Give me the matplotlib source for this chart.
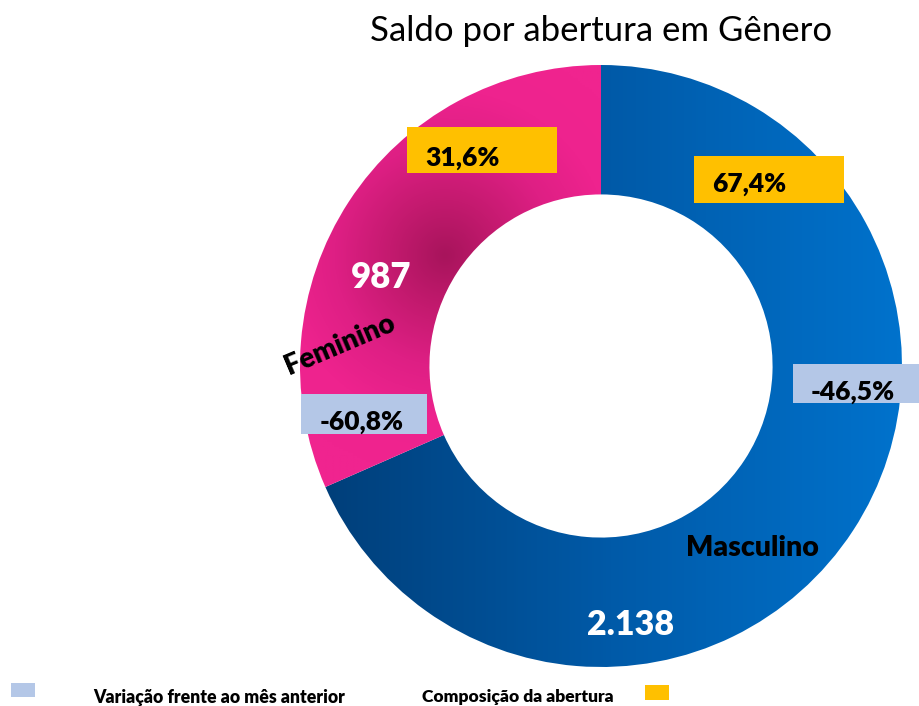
"""
Saldo por abertura em Genero: donut chart.
"""

import matplotlib.pyplot as plt
import numpy as np
from matplotlib.colors import LinearSegmentedColormap
from matplotlib.patches import Rectangle

categories = ["Feminino", "Masculino"]
saldo = [987, 2138]
saldo_labels = ["987", "2.138"]
composicao = ["31,6%", "67,4%"]
variacao = ["-60,8%", "-46,5%"]

W, H = 919, 706
plt.rcParams["font.family"] = ["Lato", "DejaVu Sans"]
BOLD = "heavy"

fig = plt.figure(figsize=(W / 100, H / 100), dpi=100)
ax = fig.add_axes([0, 0, 1, 1])

# Donut, pixel coords (y up)
cx, cy, r = 601, H - 366, 301
wedges, _ = ax.pie(saldo, startangle=90, counterclock=True, center=(cx, cy),
                   radius=r, wedgeprops=dict(width=r * 0.43, linewidth=0),
                   frame=True)
ax.set_xlim(0, W)
ax.set_ylim(0, H)
ax.set_aspect("equal")
ax.axis("off")

# Gradient fills clipped to the wedges
xx, yy = np.meshgrid(np.linspace(0, W, 400), np.linspace(0, H, 320))
blue = LinearSegmentedColormap.from_list("b", ["#003f7a", "#005aa8", "#0072cc"])
t_blue = np.clip((xx - 325) / (900 - 325), 0, 1)
im = ax.imshow(t_blue, cmap=blue, extent=(0, W, 0, H), origin="lower",
               interpolation="bilinear", aspect="auto", zorder=2)
im.set_clip_path(wedges[1])

pink = LinearSegmentedColormap.from_list(
    "p", ["#a8145c", "#c41a6f", "#de1f84", "#ee238e", "#f0248f"])
dist = np.hypot(xx - 445, yy - (H - 255))
t_pink = np.clip(dist / 220, 0, 1)
im2 = ax.imshow(t_pink, cmap=pink, extent=(0, W, 0, H), origin="lower",
                interpolation="bilinear", aspect="auto", zorder=2)
im2.set_clip_path(wedges[0])
for w in wedges:
    w.set_facecolor("none")

# Value labels and category names
ax.text(381, H - 277, saldo_labels[0], color="white", fontsize=25,
        fontweight=BOLD, ha="center", va="center", zorder=5)
ax.text(631, H - 625, saldo_labels[1], color="white", fontsize=24.5,
        fontweight=BOLD, ha="center", va="center", zorder=5)
ax.text(340, H - 345, categories[0], color="black", fontsize=20,
        fontweight=BOLD, ha="center", va="center", rotation=23, zorder=5)
ax.text(752, H - 548, categories[1], color="black", fontsize=20.5,
        fontweight=BOLD, ha="center", va="center", zorder=5)

# Boxed labels: composition (gold) and variation (light blue)
boxes = [
    ((407, 127, 150, 46), "#ffc000", composicao[0], (463, 158)),
    ((694, 156, 150, 47), "#ffc000", composicao[1], (749, 184)),
    ((301, 394, 126, 40), "#b4c7e7", variacao[0], (362, 422)),
    ((793, 364, 130, 39), "#b4c7e7", variacao[1], (853, 392)),
]
for (x, y, w, h), color, label, (tx, ty) in boxes:
    ax.add_patch(Rectangle((x, H - y - h), w, h, facecolor=color,
                           edgecolor="none", zorder=4))
    ax.text(tx, H - ty, label, color="black", fontsize=19, fontweight=BOLD,
            ha="center", va="center", zorder=5)

ax.text(601, H - 31, "Saldo por abertura em Gênero", fontsize=25,
        ha="center", va="center", color="black")

# Legend
ax.add_patch(Rectangle((11, H - 697), 24, 14, facecolor="#b4c7e7",
                       edgecolor="none", clip_on=False))
ax.text(93, H - 697, "Variação frente ao mês anterior", fontsize=12.7,
        fontweight=BOLD, ha="left", va="center")
ax.text(422, H - 697, "Composição da abertura", fontsize=12.6,
        fontweight=BOLD, ha="left", va="center")
ax.add_patch(Rectangle((645, H - 700), 24, 15, facecolor="#ffc000",
                       edgecolor="none", clip_on=False))

fig.savefig("out.png", dpi=100)
